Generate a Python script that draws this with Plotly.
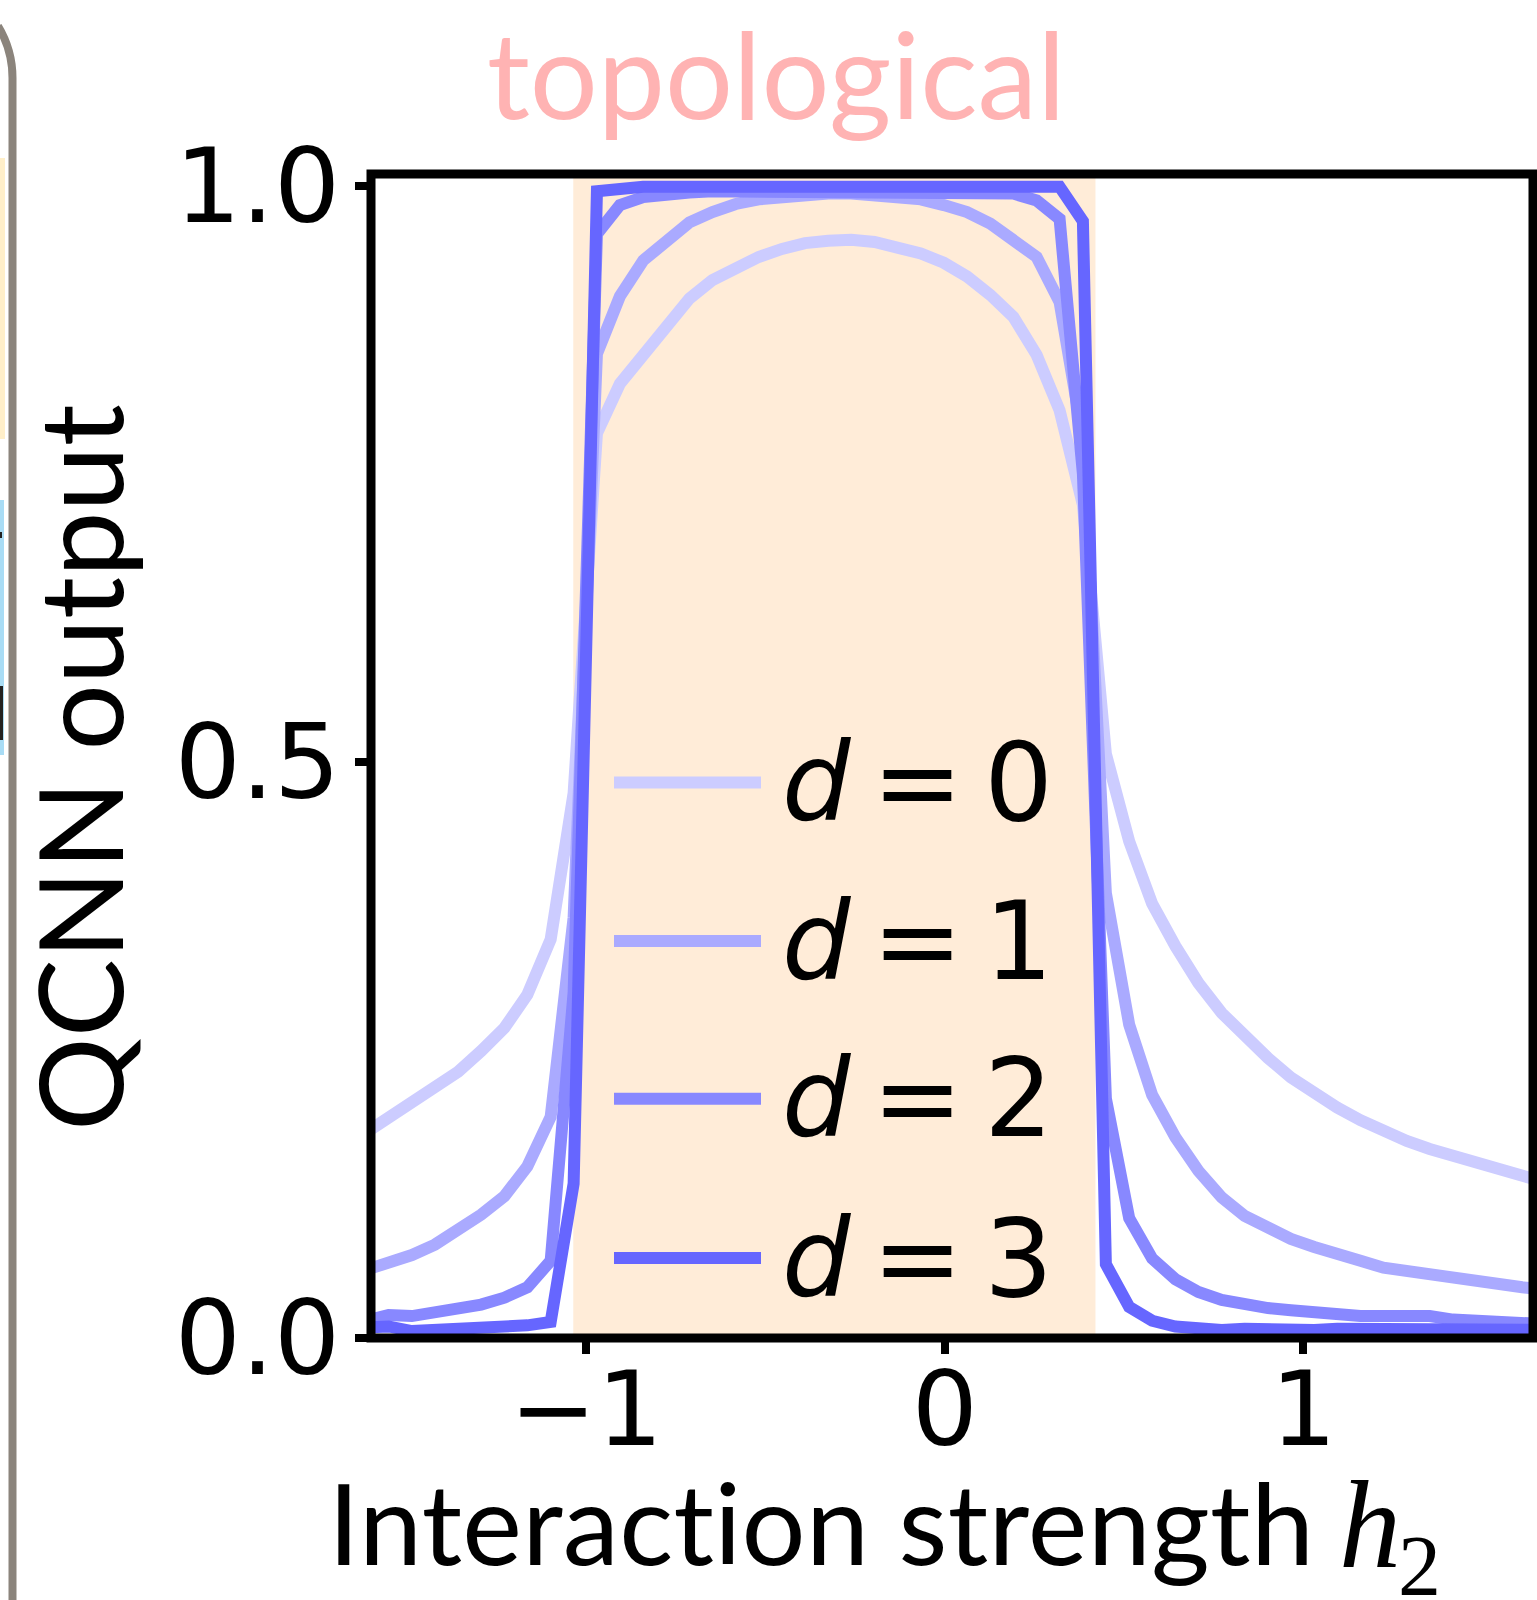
import plotly.graph_objects as go

# ---------------- data ----------------
h2 = [-1.615, -1.551, -1.486, -1.422, -1.357, -1.293, -1.228, -1.164, -1.099, -1.035,
      -0.970, -0.906, -0.841, -0.777, -0.712, -0.648, -0.583, -0.519, -0.454, -0.390,
      -0.325, -0.261, -0.196, -0.132, -0.067, -0.003, 0.062, 0.127, 0.191, 0.256,
      0.320, 0.385, 0.449, 0.514, 0.578, 0.643, 0.707, 0.772, 0.836, 0.901,
      0.965, 1.030, 1.094, 1.159, 1.223, 1.288, 1.352, 1.417, 1.481, 1.546,
      1.610, 1.675]

out_d0 = [0.178, 0.191, 0.204, 0.217, 0.231, 0.249, 0.269, 0.298, 0.346, 0.473,
          0.785, 0.828, 0.854, 0.880, 0.902, 0.918, 0.929, 0.938, 0.945, 0.950,
          0.952, 0.953, 0.951, 0.947, 0.941, 0.933, 0.921, 0.905, 0.886, 0.853,
          0.805, 0.723, 0.507, 0.431, 0.377, 0.340, 0.308, 0.282, 0.261, 0.243,
          0.226, 0.212, 0.200, 0.189, 0.179, 0.171, 0.164, 0.158, 0.152, 0.146,
          0.140, 0.135]

out_d1 = [0.059, 0.065, 0.072, 0.081, 0.093, 0.107, 0.123, 0.149, 0.192, 0.365,
          0.854, 0.904, 0.935, 0.953, 0.968, 0.977, 0.984, 0.988, 0.990, 0.992,
          0.993, 0.993, 0.992, 0.990, 0.988, 0.983, 0.977, 0.967, 0.954, 0.938,
          0.899, 0.780, 0.386, 0.272, 0.211, 0.174, 0.145, 0.122, 0.106, 0.095,
          0.086, 0.079, 0.072, 0.067, 0.061, 0.058, 0.054, 0.052, 0.050, 0.047,
          0.044, 0.042]

out_d2 = [0.015, 0.020, 0.019, 0.022, 0.025, 0.029, 0.035, 0.044, 0.067, 0.300,
          0.958, 0.983, 0.990, 0.993, 0.994, 0.995, 0.995, 0.995, 0.995, 0.995,
          0.995, 0.995, 0.995, 0.995, 0.995, 0.995, 0.995, 0.995, 0.993, 0.987,
          0.971, 0.750, 0.208, 0.104, 0.069, 0.051, 0.040, 0.033, 0.029, 0.026,
          0.024, 0.022, 0.020, 0.019, 0.019, 0.019, 0.019, 0.016, 0.015, 0.014,
          0.013, 0.012]

out_d3 = [0.009, 0.010, 0.006, 0.007, 0.007, 0.007, 0.008, 0.011, 0.014, 0.134,
          0.995, 0.998, 0.999, 0.999, 0.999, 0.999, 0.999, 0.999, 0.999, 0.999,
          0.999, 0.999, 0.999, 0.999, 0.999, 0.999, 0.999, 0.999, 0.999, 0.999,
          0.999, 0.969, 0.064, 0.027, 0.015, 0.010, 0.008, 0.007, 0.008, 0.007,
          0.008, 0.007, 0.008, 0.008, 0.009, 0.009, 0.008, 0.008, 0.007, 0.007,
          0.007, 0.007]

series_names = ["0", "1", "2", "3"]
series_values = [out_d0, out_d1, out_d2, out_d3]
series_colors = ["#CCCCFF", "#AAAAFF", "#8888FF", "#6666FF"]

phase_span = [-1.036, 0.42]
phase_label = "topological"

x_ticks = [-1, 0, 1]
x_ticktext = ["\u22121", "0", "1"]
y_ticks = [0.0, 0.5, 1.0]
y_ticktext = ["0.0", "0.5", "1.0"]

# ---------------- layout geometry ----------------
W, H = 1537, 1600
L, R, T, B = 371, 4, 174, 262
PW = W - L - R
PH = H - T - B


def pxx(p):
    return (p - L) / PW


def pxy(p):
    return (H - B - p) / PH


fig = go.Figure()
for name, vals, col in zip(series_names, series_values, series_colors):
    fig.add_trace(go.Scatter(x=h2, y=vals, mode="lines", name="d = " + name,
                             line=dict(color=col, width=12), showlegend=False))

shapes = []
# shaded phase region
shapes.append(dict(type="rect", xref="x", yref="paper", x0=phase_span[0], x1=phase_span[1],
                   y0=0, y1=1, fillcolor="#FFECD8", line=dict(width=0), layer="below"))
# spines
shapes.append(dict(type="rect", xref="paper", yref="paper", x0=0, x1=1, y0=0, y1=1,
                   line=dict(color="black", width=9), layer="above"))

# custom legend
leg_y = [782.6, 941, 1098.7, 1258]
annotations = []
for name, col, ly in zip(series_names, series_colors, leg_y):
    shapes.append(dict(type="line", xref="paper", yref="paper",
                       x0=pxx(614), x1=pxx(761), y0=pxy(ly), y1=pxy(ly),
                       line=dict(color=col, width=12), layer="above"))
    annotations.append(dict(xref="paper", yref="paper", x=pxx(780), y=pxy(ly),
                            xanchor="left", yanchor="middle", showarrow=False,
                            text="<i>d</i>\u2009=\u2009" + name,
                            font=dict(family="DejaVu Sans", size=108, color="black")))

# decorative remnants of the neighbouring panel on the left edge
g = "M {a},{b} Q {c},{d} {e},{f} L {g},{h}".format(
    a=pxx(-2), b=pxy(26), c=pxx(12.5), d=pxy(50), e=pxx(12.5), f=pxy(78),
    g=pxx(12.5), h=pxy(1610))
shapes.append(dict(type="path", xref="paper", yref="paper", path=g,
                   line=dict(color="#8B847C", width=8)))
shapes.append(dict(type="rect", xref="paper", yref="paper", x0=pxx(-10), x1=pxx(5),
                   y0=pxy(439), y1=pxy(158), fillcolor="#FFEFC9", line=dict(width=0)))
shapes.append(dict(type="rect", xref="paper", yref="paper", x0=pxx(-10), x1=pxx(4),
                   y0=pxy(755), y1=pxy(500), fillcolor="#A8DCF5", line=dict(width=0)))
shapes.append(dict(type="rect", xref="paper", yref="paper", x0=pxx(-10), x1=pxx(2),
                   y0=pxy(538), y1=pxy(532), fillcolor="#222222", line=dict(width=0)))
shapes.append(dict(type="rect", xref="paper", yref="paper", x0=pxx(-10), x1=pxx(3),
                   y0=pxy(740), y1=pxy(686), fillcolor="#222222", line=dict(width=0)))

# title
annotations.append(dict(xref="paper", yref="paper", x=pxx(776), y=pxy(0),
                        xanchor="center", yanchor="top", showarrow=False,
                        text=phase_label, borderpad=0,
                        font=dict(family="Lato", size=120, color="#FFB3B3")))
# y label
annotations.append(dict(xref="paper", yref="paper", x=pxx(78), y=pxy(768),
                        xanchor="center", yanchor="middle", showarrow=False,
                        textangle=-90, text="QCNN output",
                        font=dict(family="Lato", size=117, color="black")))
# x label
annotations.append(dict(xref="paper", yref="paper", x=pxx(326), y=pxy(1521),
                        xanchor="left", yanchor="middle", showarrow=False,
                        text="<span style=\"letter-spacing:0.3px\">Interaction strength</span>",
                        font=dict(family="Lato", size=113, color="black")))
annotations.append(dict(xref="paper", yref="paper", x=pxx(1337), y=pxy(1525),
                        xanchor="left", yanchor="middle", showarrow=False,
                        text="<i>h</i>",
                        font=dict(family="Liberation Serif", size=124, color="black")))
annotations.append(dict(xref="paper", yref="paper", x=pxx(1397), y=pxy(1566),
                        xanchor="left", yanchor="middle", showarrow=False,
                        text="2", borderpad=0,
                        font=dict(family="Liberation Serif", size=86, color="black")))

fig.update_layout(
    width=W, height=H,
    margin=dict(l=L, r=R, t=T, b=B, pad=0),
    paper_bgcolor="white", plot_bgcolor="white",
    shapes=shapes, annotations=annotations,
    showlegend=False,
)
fig.update_xaxes(range=[-1.6, 1.64], showgrid=False, zeroline=False, showline=False,
                 ticks="outside", ticklen=15, tickwidth=8, tickcolor="black",
                 tickvals=x_ticks, ticktext=x_ticktext, ticklabelstandoff=-34,
                 tickfont=dict(family="DejaVu Sans", size=104, color="black"))
fig.update_yaxes(range=[0, 1.01], showgrid=False, zeroline=False, showline=False,
                 ticks="outside", ticklen=15, tickwidth=8, tickcolor="black",
                 tickvals=y_ticks, ticktext=y_ticktext, ticklabelstandoff=-6,
                 tickfont=dict(family="DejaVu Sans", size=104, color="black"))

fig.write_html("out.html")
